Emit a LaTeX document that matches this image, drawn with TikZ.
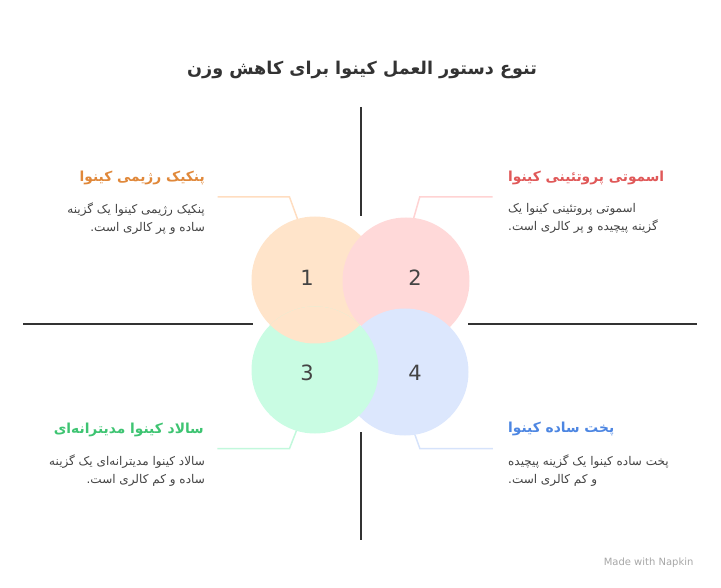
\documentclass[tikz,border=0pt]{standalone}
\usepackage{fontspec}
\usepackage{tikz}
\TeXXeTstate=1
\newfontfamily\arabicfont[Script=Arabic]{DejaVu Sans}
\newfontfamily\latinfont{DejaVu Sans}

\definecolor{orangefill}{HTML}{FFE4CA}
\definecolor{redfill}{HTML}{FFD9D9}
\definecolor{greenfill}{HTML}{C9FCE3}
\definecolor{bluefill}{HTML}{DCE7FD}
\definecolor{orangeline}{HTML}{FFDDC0}
\definecolor{redline}{HTML}{FFD3D3}
\definecolor{greenline}{HTML}{C2F8DC}
\definecolor{blueline}{HTML}{D6E3FB}
\definecolor{orangehead}{HTML}{E0883A}
\definecolor{redhead}{HTML}{E05858}
\definecolor{greenhead}{HTML}{3EC472}
\definecolor{bluehead}{HTML}{4D86E2}
\definecolor{inkgray}{HTML}{333333}
\definecolor{bodygray}{HTML}{444444}

\tikzset{
  bubble/.style={circle, minimum size=127pt, inner sep=0pt, outer sep=0pt},
  axisline/.style={draw=inkgray, line width=1.5pt},
  leader/.style={line width=1.5pt},
  heading/.style={font=\arabicfont\bfseries\fontsize{13.8}{16}\selectfont, inner sep=0pt},
  bodytext/.style={font=\arabicfont\fontsize{12}{18}\selectfont, text=bodygray, inner sep=0pt},
  number/.style={font=\latinfont\fontsize{21}{24}\selectfont, text=bodygray}
}

\begin{document}
\begin{tikzpicture}[x=1pt, y=-1pt]
\useasboundingbox (0,0) rectangle (721,588);

% title
\node[font=\arabicfont\bfseries\fontsize{17.6}{20}\selectfont, text=inkgray] (title) at (362,70)
  {\beginR تنوع دستور العمل کینوا برای کاهش وزن\endR};

% axes
\draw[axisline] (361,107) -- (361,216);
\draw[axisline] (361,432) -- (361,540);
\draw[axisline] (23,324) -- (253,324);
\draw[axisline] (468,324) -- (697,324);

% circles
\node[bubble, fill=orangefill] (c1) at (315,280) {};
\node[bubble, fill=redfill] (c2) at (406,281) {};
\node[bubble, fill=bluefill] (c4) at (405,372) {};
\node[bubble, fill=greenfill] (c3) at (315,370) {};
\begin{scope}
  \clip (c3.center) circle (63.5);
  \fill[orangefill] (c1.center) circle (63.5);
\end{scope}

\node[number] (n1) at (307,278) {1};
\node[number] (n2) at (415,278) {2};
\node[number] (n3) at (307,373) {3};
\node[number] (n4) at (415,373) {4};

% leaders
\draw[leader, orangeline] (c1.106) -- ++(-8,-22) -- ++(-72,0);
\draw[leader, redline] (c2.83) -- ++(6,-21) -- ++(73,0);
\draw[leader, greenline] (c3.253) -- ++(-7,18) -- ++(-72,0);
\draw[leader, blueline] (c4.279) -- ++(5,14) -- ++(73,0);

% texts
\node[heading, text=orangehead, anchor=east] (h1) at (205,178) {\beginR پنکیک رژیمی کینوا\endR};
\node[bodytext, anchor=north east, align=right] (b1) at (205,203)
  {\beginR پنکیک رژیمی کینوا یک گزینه\endR\\\beginR ساده و پر کالری است.\endR};

\node[heading, text=redhead, anchor=west] (h2) at (508,178) {\beginR اسموتی پروتئینی کینوا\endR};
\node[bodytext, anchor=north west, align=left] (b2) at (508,203)
  {\beginR اسموتی پروتئینی کینوا یک\endR\\\beginR گزینه پیچیده و پر کالری است.\endR};

\node[heading, text=greenhead, anchor=east] (h3) at (204,430) {\beginR سالاد کینوا مدیترانه‌ای\endR};
\node[bodytext, anchor=north east, align=right] (b3) at (205,455)
  {\beginR سالاد کینوا مدیترانه‌ای یک گزینه\endR\\\beginR ساده و کم کالری است.\endR};

\node[heading, text=bluehead, anchor=west] (h4) at (508,429) {\beginR پخت ساده کینوا\endR};
\node[bodytext, anchor=north west, align=left] (b4) at (508,455)
  {\beginR پخت ساده کینوا یک گزینه پیچیده\endR\\\beginR و کم کالری است.\endR};

\node[font=\latinfont\fontsize{10}{12}\selectfont, text=gray!70, anchor=east] (made) at (697,563) {Made with Napkin};
\end{tikzpicture}
\end{document}
